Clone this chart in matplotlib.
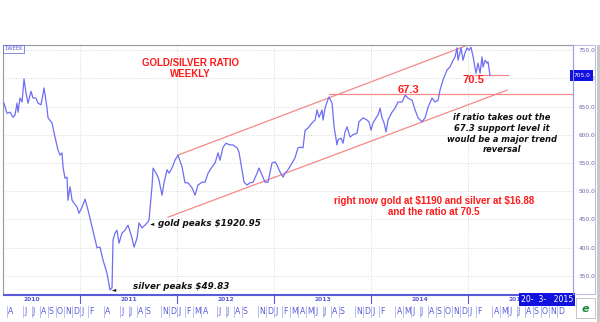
import matplotlib
matplotlib.use("Agg")
import matplotlib.pyplot as plt
from matplotlib.patches import Rectangle

# ---------------- data ----------------
week_pos = [2010.216, 2010.247, 2010.278, 2010.309, 2010.330, 2010.350, 2010.361, 2010.381,
            2010.402, 2010.423, 2010.443, 2010.464, 2010.495, 2010.515, 2010.546, 2010.567,
            2010.598, 2010.629, 2010.660, 2010.670, 2010.711, 2010.742, 2010.773, 2010.794,
            2010.814, 2010.825, 2010.845, 2010.866, 2010.876, 2010.897, 2010.918, 2010.938,
            2010.969, 2010.990, 2011.021, 2011.052, 2011.082, 2011.124, 2011.155, 2011.175,
            2011.206, 2011.237, 2011.278, 2011.309, 2011.330, 2011.340, 2011.361, 2011.381,
            2011.402, 2011.433, 2011.464, 2011.495, 2011.536, 2011.557, 2011.588, 2011.608,
            2011.639, 2011.670, 2011.701, 2011.711, 2011.742, 2011.753, 2011.794, 2011.814,
            2011.845, 2011.866, 2011.897, 2011.918, 2011.948, 2011.979, 2012.010, 2012.052,
            2012.082, 2012.113, 2012.155, 2012.186, 2012.216, 2012.258, 2012.289, 2012.320,
            2012.361, 2012.392, 2012.423, 2012.443, 2012.474, 2012.505, 2012.546, 2012.577,
            2012.619, 2012.639, 2012.670, 2012.691, 2012.722, 2012.753, 2012.784, 2012.825,
            2012.845, 2012.876, 2012.907, 2012.938, 2012.979, 2013.010, 2013.031, 2013.062,
            2013.093, 2013.113, 2013.144, 2013.186, 2013.216, 2013.247, 2013.268, 2013.299,
            2013.320, 2013.351, 2013.392, 2013.423, 2013.443, 2013.464, 2013.495, 2013.505,
            2013.526, 2013.546, 2013.567, 2013.598, 2013.619, 2013.649, 2013.660, 2013.691,
            2013.711, 2013.732, 2013.753, 2013.784, 2013.814, 2013.856, 2013.876, 2013.918,
            2013.959, 2013.979, 2014.000, 2014.021, 2014.052, 2014.072, 2014.093, 2014.113,
            2014.134, 2014.155, 2014.175, 2014.216, 2014.247, 2014.278, 2014.320, 2014.351,
            2014.381, 2014.423, 2014.454, 2014.485, 2014.526, 2014.557, 2014.588, 2014.629,
            2014.660, 2014.691, 2014.711, 2014.742, 2014.784, 2014.814, 2014.845, 2014.866,
            2014.887, 2014.897, 2014.928, 2014.948, 2014.969, 2014.990, 2015.010, 2015.031,
            2015.052, 2015.082, 2015.103, 2015.124, 2015.144, 2015.155, 2015.175, 2015.196,
            2015.206, 2015.227]
ratio_x10 = [656, 638, 640, 631, 635, 656, 640, 665,
             658, 699, 674, 656, 677, 665, 665, 656,
             653, 683, 647, 630, 621, 596, 573, 564,
             568, 543, 523, 525, 484, 508, 484, 479,
             472, 461, 472, 486, 467, 437, 414, 400,
             401, 378, 355, 325, 329, 414, 426, 431,
             408, 426, 431, 440, 417, 401, 417, 444,
             435, 440, 446, 449, 508, 541, 529, 520,
             493, 515, 538, 532, 541, 555, 564, 543,
             515, 515, 506, 493, 511, 516, 516, 532,
             543, 550, 568, 555, 578, 585, 582, 582,
             577, 569, 538, 516, 511, 515, 516, 532,
             541, 529, 516, 516, 550, 552, 546, 534,
             525, 532, 538, 550, 559, 577, 578, 577,
             608, 612, 621, 626, 644, 631, 644, 626,
             647, 658, 667, 656, 614, 582, 591, 594,
             585, 605, 614, 596, 600, 603, 623, 630,
             626, 623, 608, 621, 630, 635, 647, 630,
             621, 605, 626, 640, 647, 658, 658, 670,
             665, 661, 644, 630, 623, 630, 649, 665,
             658, 661, 679, 697, 715, 720, 732, 738,
             754, 732, 754, 732, 745, 754, 750, 755,
             738, 709, 727, 709, 738, 720, 732, 727,
             729, 705]

upper_channel_x = [2012.010, 2015.000]
upper_channel_y = [564, 759]
lower_channel_x = [2011.907, 2015.402]
lower_channel_y = [454, 679]
support_level = 673
support_start = 2013.567
current_level = 705
current_x = [2015.07, 2015.41]

year_labels = ["2010", "2011", "2012", "2013", "2014", "2015"]
month_labels = (["A", "", "J", "J", "A", "S", "O", "N", "D"] +
                ["J", "F", "", "A", "", "J", "J", "A", "S", "", "N", "D"] +
                ["J", "F", "M", "A", "", "J", "J", "A", "S", "", "N", "D"] +
                ["J", "F", "M", "A", "M", "J", "J", "A", "S", "", "N", "D"] +
                ["J", "F", "", "A", "M", "J", "J", "A", "S", "O", "N", "D"] +
                ["J", "F", "", "A", "M", "J", "J", "A", "S", "O", "N", "D"])
y_ticks = [350, 400, 450, 500, 550, 600, 650, 700, 750]

# ---------------- layout ----------------
W, H = 600, 322
fig = plt.figure(figsize=(W / 100, H / 100), dpi=100)
fig.patch.set_facecolor("white")

def fx(px):
    return px / W

def fy(py):
    return 1 - py / H

X0, X1 = 2010.206, 2016.082
Y0, Y1 = 318, 759
ax = fig.add_axes([fx(3), fy(294), fx(570), 249 / H])
ax.set_xlim(X0, X1)
ax.set_ylim(Y0, Y1)

blue = "#6e6ef4"
red_line = "#f48a8a"
red_txt = "#ff1a1a"
axis_blue = "#5a5ad8"

# grid
for v in y_ticks:
    ax.axhline(v, color="#cccccc", lw=0.6, ls=(0, (1, 2)), zorder=0)
for yr in range(2011, 2016):
    ax.axvline(yr, color="#cccccc", lw=0.6, ls=(0, (1, 2)), zorder=0)

ax.plot(week_pos, ratio_x10, color=blue, lw=0.9, zorder=3)
ax.plot(upper_channel_x, upper_channel_y, color=red_line, lw=0.9, zorder=2)
ax.plot(lower_channel_x, lower_channel_y, color=red_line, lw=0.9, zorder=2)
ax.plot([support_start, X1], [support_level, support_level], color=red_line, lw=0.9, zorder=2)
ax.plot(current_x, [current_level, current_level], color=red_line, lw=0.9, zorder=2)

for s in ["top", "left"]:
    ax.spines[s].set_color("#999999")
for s in ["right", "bottom"]:
    ax.spines[s].set_color(axis_blue)
for s in ax.spines.values():
    s.set_linewidth(0.8)

ax.set_xticks([])
ax.yaxis.tick_right()
ax.set_yticks(y_ticks)
ax.set_yticklabels([f"{v:.1f}" for v in y_ticks])
ax.tick_params(axis="y", length=0, pad=4, labelsize=4.2, labelcolor="#6a6aa8")

# last value marker on price axis (covers the 700.0 label as in the reference)
ax.text(1.0, (ratio_x10[-1] - Y0) / (Y1 - Y0), f"{ratio_x10[-1]:.1f}",
        transform=ax.transAxes, ha="left", va="center", fontsize=4.2, color="white",
        zorder=10, clip_on=False,
        bbox=dict(boxstyle="square,pad=0.45", fc="#1010e0", ec="none"))

# right panel border
fig.add_artist(Rectangle((fx(573), fy(294)), fx(22), 249 / H, transform=fig.transFigure,
                         fill=False, ec="#aab0e0", lw=0.6))
fig.add_artist(Rectangle((fx(597), fy(322)), fx(3), 277 / H, transform=fig.transFigure,
                         fc="#c8c8c8", ec="none"))

# 1WEEK label
ax.text(2010.222, 752, "1WEEK", fontsize=3.8, color=axis_blue, ha="left", va="center",
        bbox=dict(boxstyle="square,pad=0.2", fc="white", ec=axis_blue, lw=0.5))

# annotations
rfont = dict(family="Liberation Sans", weight="bold", color=red_txt, parse_math=False)
ax.text(2012.139, 718, "GOLD/SILVER RATIO\nWEEKLY", ha="center", va="center",
        fontsize=7.0, linespacing=1.1, **rfont)
ax.text(2014.387, 680, "67.3", ha="center", va="center", fontsize=8, **rfont)
ax.text(2015.057, 697, "70.5", ha="center", va="center", fontsize=8, **rfont)
ax.text(2014.65, 473, "right now gold at $1190 and silver at $16.88\nand the ratio at 70.5",
        ha="center", va="center", fontsize=7.0, linespacing=1.2, **rfont)

kfont = dict(family="DejaVu Sans", weight="bold", style="italic", color="#111111",
             parse_math=False)
ax.text(2015.35, 602, "if ratio takes out the\n67.3 support level it\nwould be a major trend\nreversal",
        ha="center", va="center", fontsize=6.0, linespacing=1.25, **kfont)
ax.text(2011.804, 442, "gold peaks $1920.95", ha="left", va="center", fontsize=6.3, **kfont)
ax.text(2011.550, 332, "silver peaks $49.83", ha="left", va="center", fontsize=6.3, **kfont)
ax.text(2011.72, 442, "\u25c4", ha="left", va="center", fontsize=4, color="#111111")
ax.text(2011.33, 325, "\u25c4", ha="left", va="center", fontsize=4, color="#111111")

# ---------------- date axis band ----------------
ax2 = fig.add_axes([fx(3), fy(318), fx(570), 24 / H])
ax2.set_xlim(X0, X1)
ax2.set_ylim(0, 1)
ax2.axis("off")
ax2.axhline(0.96, color=axis_blue, lw=0.8)
ax2.axhline(0.02, color="#aaaaaa", lw=0.6)
for i, yl in enumerate(year_labels):
    yr = 2010 + i
    ax2.text(yr + 0.5, 0.78, yl, ha="center", va="center", fontsize=4.3,
             color=axis_blue, weight="bold", zorder=2)
    if yr > 2010:
        ax2.plot([yr, yr], [0.62, 0.92], color=axis_blue, lw=0.8)
for k, ml in enumerate(month_labels):
    pos = 2010 + (3 + k) / 12
    if ml:
        ax2.plot([pos, pos], [0.06, 0.5], color="#9ea6e6", lw=0.5)
        ax2.text(pos + 0.012, 0.28, ml, ha="left", va="center", fontsize=5.6,
                 color=axis_blue)
ax2.text(1.0, 0.78, "20-  3-   2015", transform=ax2.transAxes, ha="right", va="center",
         fontsize=5.6, color="white", zorder=10,
         bbox=dict(boxstyle="square,pad=0.25", fc="#1212e0", ec="none"))

# logo box
fig.add_artist(Rectangle((fx(576), fy(318)), fx(19), 20 / H, transform=fig.transFigure,
                         fc="white", ec="#bbbbbb", lw=0.6))
fig.text(fx(585.5), fy(309), "e", ha="center", va="center", fontsize=8, color="#1a8a3a",
         weight="bold", style="italic")

fig.savefig("out.png", dpi=100)
